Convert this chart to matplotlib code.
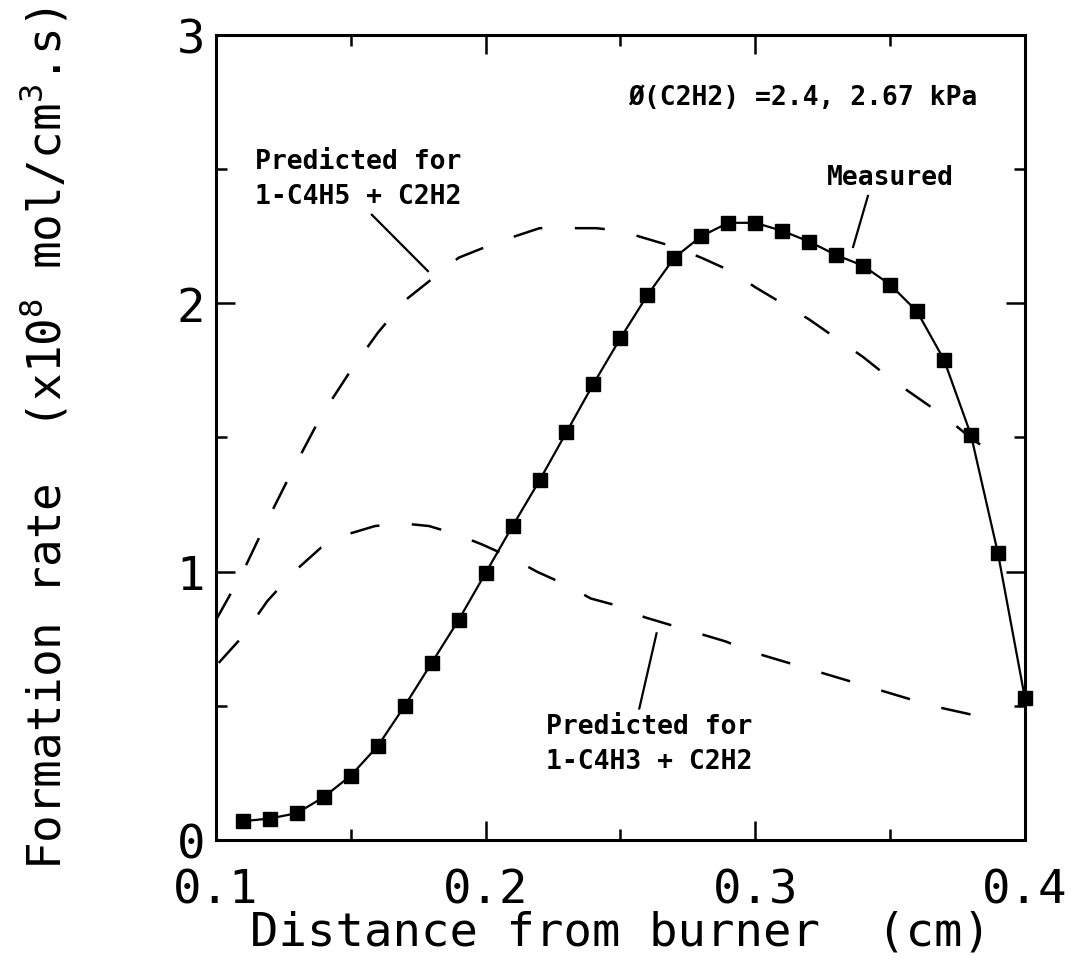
import matplotlib
matplotlib.use("Agg")
import matplotlib.pyplot as plt
from matplotlib.ticker import MultipleLocator

plt.rcParams['font.family'] = ['DejaVu Sans Mono', 'DejaVu Sans']
plt.rcParams['mathtext.fontset'] = 'custom'
plt.rcParams['mathtext.rm'] = 'DejaVu Sans Mono'
plt.rcParams['mathtext.it'] = 'DejaVu Sans Mono'

# Measured formation rate
x_meas = [0.11, 0.12, 0.13, 0.14, 0.15, 0.16, 0.17, 0.18, 0.19, 0.20,
          0.21, 0.22, 0.23, 0.24, 0.25, 0.26, 0.27, 0.28, 0.29, 0.30,
          0.31, 0.32, 0.33, 0.34, 0.35, 0.36, 0.37, 0.38, 0.39, 0.40]
y_meas = [0.07, 0.08, 0.10, 0.16, 0.24, 0.35, 0.50, 0.66, 0.82, 0.995,
          1.17, 1.34, 1.52, 1.70, 1.87, 2.03, 2.17, 2.25, 2.30, 2.30,
          2.27, 2.23, 2.18, 2.14, 2.07, 1.97, 1.79, 1.51, 1.07, 0.53]

# Predicted for 1-C4H5 + C2H2
x_c4h5 = [0.100, 0.110, 0.119, 0.129, 0.139, 0.150, 0.160, 0.170, 0.180, 0.190,
          0.200, 0.211, 0.220, 0.231, 0.241, 0.250, 0.260, 0.270, 0.280, 0.291,
          0.300, 0.310, 0.320, 0.330, 0.340, 0.350, 0.360, 0.370, 0.381, 0.390]
y_c4h5 = [0.82, 1.00, 1.19, 1.39, 1.58, 1.75, 1.89, 2.01, 2.09, 2.17,
          2.21, 2.25, 2.28, 2.28, 2.28, 2.27, 2.24, 2.21, 2.17, 2.12,
          2.06, 2.00, 1.94, 1.87, 1.80, 1.72, 1.65, 1.58, 1.49, 1.43]

# Predicted for 1-C4H3 + C2H2
x_c4h3 = [0.101, 0.110, 0.119, 0.129, 0.139, 0.149, 0.159, 0.169, 0.179, 0.189,
          0.199, 0.210, 0.219, 0.230, 0.239, 0.250, 0.259, 0.269, 0.279, 0.289,
          0.299, 0.309, 0.319, 0.329, 0.339, 0.349, 0.359, 0.370, 0.379, 0.390]
y_c4h3 = [0.66, 0.76, 0.89, 1.00, 1.09, 1.14, 1.17, 1.18, 1.17, 1.14,
          1.10, 1.05, 1.00, 0.95, 0.90, 0.87, 0.83, 0.80, 0.77, 0.74,
          0.70, 0.67, 0.64, 0.61, 0.58, 0.55, 0.52, 0.49, 0.47, 0.44]

x_ticks = [0.1, 0.2, 0.3, 0.4]
x_ticklabels = ['0.1', '0.2', '0.3', '0.4']
y_ticks = [0, 1, 2, 3]
y_ticklabels = ['0', '1', '2', '3']

fig = plt.figure(figsize=(10.72, 9.62), dpi=100)
ax = fig.add_axes([0.2015, 0.1258, 0.7545, 0.8368])

ax.plot(x_meas, y_meas, color='black', lw=1.6, marker='s', ms=10,
        mfc='black', mec='black', zorder=3, clip_on=False)
ax.plot(x_c4h5, y_c4h5, color='black', lw=1.8, dashes=(12, 13), clip_on=False)
ax.plot(x_c4h3, y_c4h3, color='black', lw=1.8, dashes=(12, 13), clip_on=False)

ax.set_xlim(0.1, 0.4)
ax.set_ylim(0, 3)
ax.set_xticks(x_ticks)
ax.set_xticklabels(x_ticklabels)
ax.set_yticks(y_ticks)
ax.set_yticklabels(y_ticklabels)
ax.xaxis.set_minor_locator(MultipleLocator(0.05))
ax.yaxis.set_minor_locator(MultipleLocator(0.5))
ax.tick_params(which='both', direction='in', top=True, right=True, width=1.8)
ax.tick_params(which='major', length=14)
ax.tick_params(which='minor', length=8)
ax.tick_params(axis='x', which='major', labelsize=34, pad=20)
ax.tick_params(axis='y', which='major', labelsize=34, pad=8)
for s in ax.spines.values():
    s.set_linewidth(2.2)

ax.set_xlabel('Distance from burner  (cm)', fontsize=34, labelpad=-2)
ax.set_ylabel(r'Formation rate  (x10$^{8}$ mol/cm$^{3}$.s)', fontsize=33, labelpad=76)

tkw = dict(fontsize=19, color='black', fontweight='bold')
ax.text(0.1143, 2.464, 'Predicted for\n1-C4H5 + C2H2', ha='left', va='center',
        linespacing=1.45, **tkw)
ax.plot([0.1578, 0.1786], [2.33, 2.12], color='black', lw=1.6)

ax.text(0.3503, 2.47, 'Measured', ha='center', va='center', **tkw)
ax.plot([0.3418, 0.3363], [2.40, 2.21], color='black', lw=1.6)

ax.text(0.2528, 2.77, '\u00d8(C2H2) =2.4, 2.67 kPa', ha='left', va='center', **tkw)

ax.text(0.2224, 0.358, 'Predicted for\n1-C4H3 + C2H2', ha='left', va='center',
        linespacing=1.45, **tkw)
ax.plot([0.2634, 0.2570], [0.77, 0.49], color='black', lw=1.6)

fig.savefig('out.png', dpi=100)
